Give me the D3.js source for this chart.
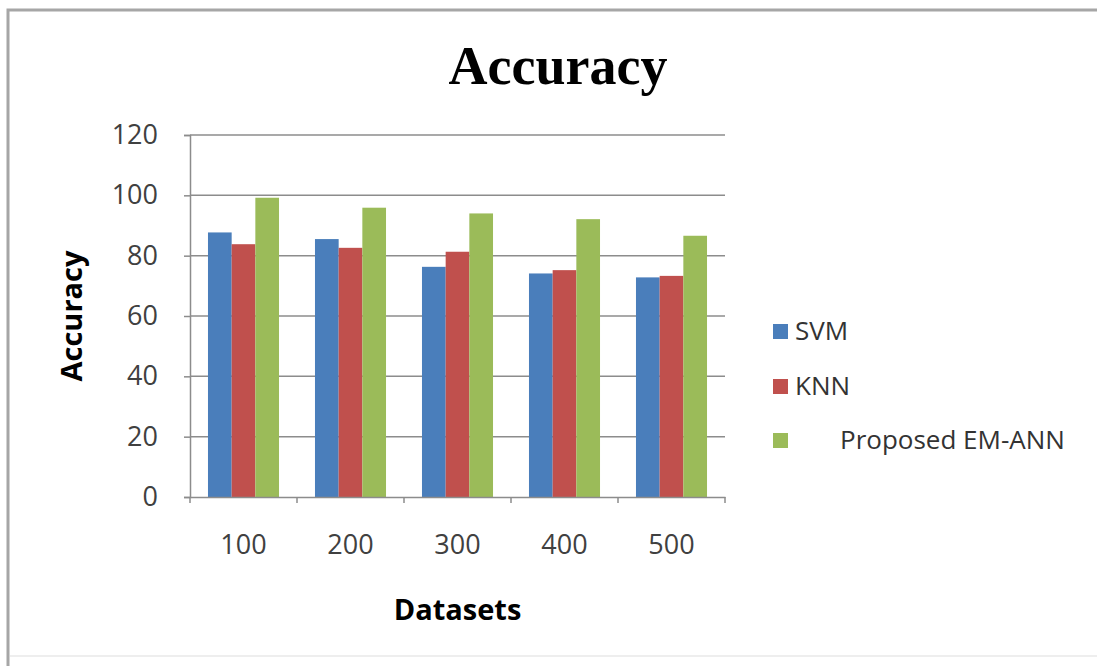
<!DOCTYPE html>
<html>
<head>
<meta charset="utf-8">
<script src="https://cdn.jsdelivr.net/npm/d3@7"></script>
<style>
  body { margin: 0; background: #fff; }
  svg text { font-family: "Open Sans", sans-serif; }
</style>
</head>
<body>
<div class="chart"></div>
<script>
var categories = ["100", "200", "300", "400", "500"];
var seriesNames = ["SVM", "KNN", "Proposed EM-ANN"];
var svmValues = [87.7, 85.5, 76.3, 74.1, 72.8];
var knnValues = [83.8, 82.6, 81.3, 75.2, 73.3];
var emAnnValues = [99.2, 95.9, 94.0, 92.1, 86.6];
var yTicks = [0, 20, 40, 60, 80, 100, 120];
var colors = ["#4a7ebb", "#c0504d", "#9bbb59"];

var allSeries = [svmValues, knnValues, emAnnValues];

// set the dimensions and margins of the graph
var margin = { top: 135, right: 372, bottom: 169, left: 190 },
    width = 1097 - margin.left - margin.right,
    height = 666 - margin.top - margin.bottom;

var root = d3.select(".chart")
    .append("svg")
    .attr("width", 1097)
    .attr("height", 666);

// outer frame
root.append("path")
    .attr("d", "M8,666 L8,10 L1097,10")
    .attr("fill", "none")
    .attr("stroke", "#a6a6a6")
    .attr("stroke-width", 3);
root.append("line")
    .attr("x1", 10).attr("x2", 1097)
    .attr("y1", 656).attr("y2", 656)
    .attr("stroke", "#eeeeee")
    .attr("stroke-width", 2);

// title
root.append("text")
    .attr("x", 558)
    .attr("y", 84)
    .attr("text-anchor", "middle")
    .style("font-family", "'Liberation Serif', 'Times New Roman', serif")
    .style("font-weight", "bold")
    .style("font-size", "54px")
    .text("Accuracy");

var svg = root.append("g")
    .attr("transform", "translate(" + margin.left + "," + margin.top + ")");

// X scale
var x = d3.scaleBand()
    .range([0, width])
    .domain(categories)
    .paddingInner(0.336)
    .paddingOuter(0.168);

var xSub = d3.scaleBand()
    .domain(seriesNames)
    .range([0, x.bandwidth()]);

// Y scale
var y = d3.scaleLinear()
    .domain([0, 120])
    .range([height, 0]);

// gridlines
svg.append("g")
    .selectAll("line")
    .data(yTicks.slice(1))
    .enter()
    .append("line")
    .attr("x1", 0)
    .attr("x2", width)
    .attr("y1", function (d) { return y(d); })
    .attr("y2", function (d) { return y(d); })
    .attr("stroke", "#8c8c8c")
    .attr("stroke-width", 1.5);

// bars
var groups = svg.selectAll(".grp")
    .data(categories)
    .enter()
    .append("g")
    .attr("class", "grp")
    .attr("transform", function (d) { return "translate(" + x(d) + ",0)"; });

groups.selectAll("rect")
    .data(function (d, i) {
        return seriesNames.map(function (s, j) {
            return { name: s, value: allSeries[j][i], color: colors[j] };
        });
    })
    .enter()
    .append("rect")
    .attr("x", function (d) { return xSub(d.name); })
    .attr("y", function (d) { return y(d.value); })
    .attr("width", xSub.bandwidth())
    .attr("height", function (d) { return height - y(d.value); })
    .attr("fill", function (d) { return d.color; });

// Y axis
var yAxis = svg.append("g")
    .call(d3.axisLeft(y).tickValues(yTicks).tickSize(6).tickPadding(26));
yAxis.select(".domain").attr("stroke", "#8c8c8c").attr("stroke-width", 1.5);
yAxis.selectAll(".tick line").attr("stroke", "#8c8c8c").attr("stroke-width", 1.5);
yAxis.selectAll(".tick text")
    .style("font-size", "27px")
    .attr("fill", "#404040");

// X axis
var xAxis = svg.append("g")
    .attr("transform", "translate(0," + height + ")")
    .call(d3.axisBottom(x).tickSize(0).tickPadding(38));
xAxis.select(".domain").attr("stroke", "#8c8c8c").attr("stroke-width", 1.5);
xAxis.selectAll(".tick text")
    .style("font-size", "27px")
    .attr("fill", "#404040");

// category separator ticks
svg.append("g")
    .selectAll("line")
    .data(d3.range(categories.length + 1))
    .enter()
    .append("line")
    .attr("x1", function (d) { return d * x.step(); })
    .attr("x2", function (d) { return d * x.step(); })
    .attr("y1", height)
    .attr("y2", height + 6)
    .attr("stroke", "#8c8c8c")
    .attr("stroke-width", 1.5);

// axis titles
svg.append("text")
    .attr("x", width / 2)
    .attr("y", 485)
    .attr("text-anchor", "middle")
    .style("font-size", "29px")
    .style("font-weight", "bold")
    .text("Datasets");

svg.append("text")
    .attr("transform", "translate(-108," + height / 2 + ") rotate(-90)")
    .attr("text-anchor", "middle")
    .style("font-size", "29px")
    .style("font-weight", "bold")
    .text("Accuracy");

// legend
var legendY = [331, 386, 440];
var legendTextX = [795, 795, 840];
var legend = root.append("g");
legend.selectAll("rect")
    .data(seriesNames)
    .enter()
    .append("rect")
    .attr("x", 773)
    .attr("y", function (d, i) { return legendY[i] - 7; })
    .attr("width", 15)
    .attr("height", 15)
    .attr("fill", function (d, i) { return colors[i]; });
legend.selectAll("text")
    .data(seriesNames)
    .enter()
    .append("text")
    .attr("x", function (d, i) { return legendTextX[i]; })
    .attr("y", function (d, i) { return legendY[i] + 9; })
    .style("font-size", "26px")
    .attr("fill", "#333333")
    .text(function (d) { return d; });
</script>
</body>
</html>
